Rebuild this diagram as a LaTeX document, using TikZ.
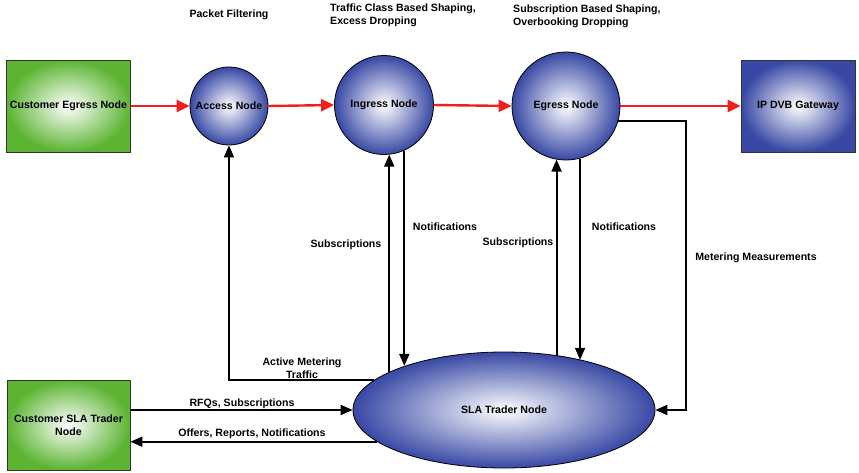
\documentclass[tikz,border=0pt]{standalone}
\usepackage{fontspec}
\setmainfont{Liberation Sans}
\usetikzlibrary{arrows.meta,shapes.geometric}
\definecolor{nodeblue}{RGB}{56,72,164}
\definecolor{nodegreen}{RGB}{92,180,50}
\definecolor{flowred}{RGB}{240,30,30}
\begin{document}
\begin{tikzpicture}[x=1pt,y=-1pt,
  every node/.style={font=\fontsize{10.6}{12.5}\selectfont\bfseries},
  greenbox/.style={draw=black!80,line width=0.8pt,rectangle,inner color=white,outer color=nodegreen,minimum height=92pt},
  bluebox/.style={draw=black!80,line width=0.8pt,rectangle,inner color=white,outer color=nodeblue,minimum height=92pt},
  ball/.style={draw=black,line width=0.8pt,circle,inner color=white,outer color=nodeblue,inner sep=0pt},
  flow/.style={draw=flowred,line width=2.4pt,-{Triangle[length=13pt,width=12pt]}},
  ctl/.style={draw=black,line width=1.9pt,-{Triangle[length=12pt,width=10pt]}},
  lbl/.style={inner sep=0pt,align=center}
]
\useasboundingbox (0,0) rectangle (859,472);
% nodes
\node[greenbox,minimum width=123pt] (ceg) at (68.5,106) {Customer Egress Node};
\node[ball,minimum size=78pt] (acc) at (229,106) {Access Node};
\node[ball,minimum size=99pt] (ing) at (384,105) {Ingress Node};
\node[ball,minimum size=108pt] (egr) at (566,106) {Egress Node};
\node[bluebox,minimum width=114pt] (ipg) at (798,106) {IP DVB Gateway};
\node[greenbox,minimum width=123pt,minimum height=90pt,align=center] (csla) at (68.5,425) {Customer SLA Trader\\Node};
\node[draw=black,line width=0.8pt,ellipse,inner color=white,outer color=nodeblue,minimum width=302pt,minimum height=116pt,inner sep=0pt] (sla) at (504,410) {SLA Trader Node};
% red flow
\draw[flow] (ceg.east) -- (acc.west);
\draw[flow] (acc.east) -- (ing.west);
\draw[flow] (ing.east) -- (egr.west);
\draw[flow] (egr.east) -- (ipg.west);
% control connectors
\draw[ctl] (sla.167) -| (acc.south);
\draw[ctl] (ing.-84 |- sla.162) -- (ing.-84);
\draw[ctl] (ing.-66) -- (ing.-66 |- sla.156.5);
\draw[ctl] (egr.-100 |- sla.45.7) -- (egr.-100);
\draw[ctl] (egr.-75) -- (egr.-75 |- sla.33.4);
\coordinate (mm) at (686,410);
\draw[ctl] (egr.-16) -| (mm) -- (sla.east);
\draw[ctl] (csla.east |- sla.west) -- (sla.west);
\draw[ctl] (sla.194) -- (sla.194 -| csla.east);
% labels
\node[lbl] (tpf) at (229,15) {Packet Filtering};
\node[lbl,anchor=north west,align=left] (ttc) at (330,4) {Traffic Class Based Shaping,\\Excess Dropping};
\node[lbl,anchor=north west,align=left] (tsb) at (513,5) {Subscription Based Shaping,\\Overbooking Dropping};
\node[lbl] (ls1) at (346,245) {Subscriptions};
\node[lbl] (ln1) at (445,227) {Notifications};
\node[lbl] (ls2) at (518,243) {Subscriptions};
\node[lbl] (ln2) at (624,227) {Notifications};
\node[lbl] (lmm) at (756,258) {Metering Measurements};
\node[lbl] (lam) at (302,368) {Active Metering\\Traffic};
\node[lbl] (lrfq) at (242,404) {RFQs, Subscriptions};
\node[lbl] (lorn) at (252,434) {Offers, Reports, Notifications};
\end{tikzpicture}
\end{document}
